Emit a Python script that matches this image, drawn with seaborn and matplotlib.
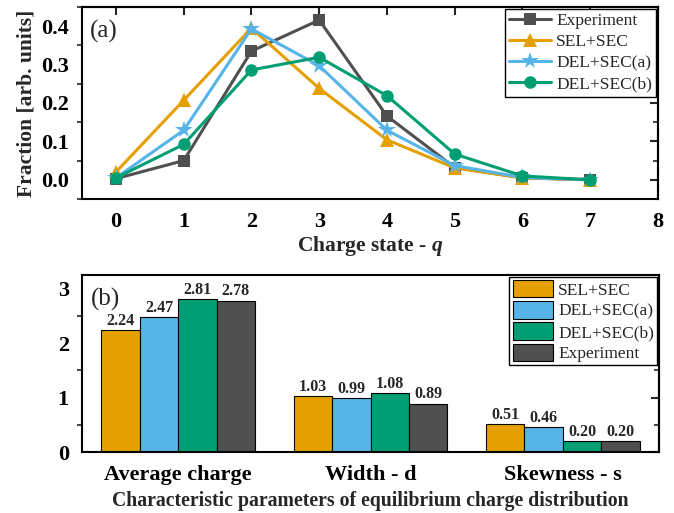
import numpy as np
import pandas as pd
import matplotlib
matplotlib.use("Agg")
import matplotlib.pyplot as plt
from matplotlib.ticker import MultipleLocator
import seaborn as sns

# Panel (a): equilibrium charge-state fractions
charge_states = [0, 1, 2, 3, 4, 5, 6, 7]
experiment = [0.003, 0.050, 0.335, 0.416, 0.166, 0.032, 0.005, 0.000]
sel_sec = [0.020, 0.207, 0.395, 0.238, 0.104, 0.031, 0.005, 0.000]
del_sec_a = [0.005, 0.129, 0.393, 0.297, 0.129, 0.037, 0.006, 0.000]
del_sec_b = [0.005, 0.092, 0.286, 0.319, 0.219, 0.067, 0.010, 0.000]

# Panel (b): characteristic parameters
parameters = ["Average charge", "Width - d", "Skewness - s"]
models = ["SEL+SEC", "DEL+SEC(a)", "DEL+SEC(b)", "Experiment"]
par_sel_sec = [2.24, 1.03, 0.51]
par_del_sec_a = [2.47, 0.99, 0.46]
par_del_sec_b = [2.81, 1.08, 0.20]
par_experiment = [2.78, 0.89, 0.20]

colors = {"Experiment": "#505050", "SEL+SEC": "#E69F00",
          "DEL+SEC(a)": "#56B4E9", "DEL+SEC(b)": "#009E73"}

sns.set_theme(style="white")
plt.rcParams["font.family"] = ["Liberation Serif", "DejaVu Serif"]
plt.rcParams["mathtext.fontset"] = "custom"
plt.rcParams["mathtext.bfit"] = "Liberation Serif:italic:bold"
plt.rcParams["mathtext.it"] = "Liberation Serif:italic"
plt.rcParams["mathtext.bf"] = "Liberation Serif:bold"

fig = plt.figure(figsize=(6.74, 5.13), dpi=100)
ax1 = fig.add_axes([0.1217, 0.6121, 0.8546, 0.3743])
ax2 = fig.add_axes([0.1217, 0.1189, 0.8561, 0.3450])

# ---- panel (a)
series = [("Experiment", experiment, "s", 8),
          ("SEL+SEC", sel_sec, "^", 10.5),
          ("DEL+SEC(a)", del_sec_a, "*", 13),
          ("DEL+SEC(b)", del_sec_b, "o", 9)]
for name, vals, mk, ms in series:
    sns.lineplot(x=charge_states, y=vals, ax=ax1, color=colors[name],
                 marker=mk, markersize=ms, markeredgewidth=0,
                 linewidth=2.2, label=name)

ax1.set_xlim(-0.5, 8)
ax1.set_ylim(-0.05, 0.45)
ax1.xaxis.set_major_locator(MultipleLocator(1))
ax1.yaxis.set_major_locator(MultipleLocator(0.1))
ax1.yaxis.set_minor_locator(MultipleLocator(0.05))
ax1.set_xlabel(r"Charge state - $\mathbfit{q}$", fontsize=15.5, fontweight="bold", labelpad=1)
ax1.set_ylabel("Fraction [arb. units]", fontsize=15.5, fontweight="bold", labelpad=3)
ax1.text(0.013, 0.935, "(a)", transform=ax1.transAxes, fontsize=18,
         va="top", ha="left")
leg1 = ax1.legend(loc="upper right", fontsize=12.5, frameon=True, fancybox=False,
                  edgecolor="black", framealpha=1, borderaxespad=0.1,
                  handlelength=2.4, borderpad=0.25, labelspacing=0.28,
                  handletextpad=0.3)
leg1.get_frame().set_linewidth(1.0)

# ---- panel (b)
rows = []
for m, vals in zip(models, [par_sel_sec, par_del_sec_a, par_del_sec_b, par_experiment]):
    for p, v in zip(parameters, vals):
        rows.append({"parameter": p, "model": m, "value": v})
df = pd.DataFrame(rows)
sns.barplot(data=df, x="parameter", y="value", hue="model", order=parameters,
            hue_order=models, palette=[colors[m] for m in models], ax=ax2,
            width=0.8, edgecolor="black", linewidth=0.8, saturation=1)
for cont in ax2.containers:
    ax2.bar_label(cont, fmt="%.2f", fontsize=11.5, fontweight="bold", padding=1)

ax2.set_xlim(-0.5, 2.5)
ax2.set_ylim(0, 3.25)
ax2.yaxis.set_major_locator(MultipleLocator(1))
ax2.yaxis.set_minor_locator(MultipleLocator(0.5))
ax2.set_xlabel("Characteristic parameters of equilibrium charge distribution",
               fontsize=14.2, fontweight="bold", labelpad=5)
ax2.set_ylabel("")
ax2.text(0.015, 0.93, "(b)", transform=ax2.transAxes, fontsize=18,
         va="top", ha="left")
leg2 = ax2.legend(loc="upper right", fontsize=12.5, frameon=True, fancybox=False,
                  edgecolor="black", framealpha=1, borderaxespad=0.1,
                  handlelength=2.3, handleheight=1.15, borderpad=0.2,
                  labelspacing=0.15, handletextpad=0.3, title=None)
leg2.get_frame().set_linewidth(1.0)

# ---- axis styling: outward ticks on left/bottom, inward mirror ticks
for ax in (ax1, ax2):
    for sp in ax.spines.values():
        sp.set_linewidth(1.5)
        sp.set_color("black")
        sp.set_visible(True)
    ax.tick_params(axis="both", which="major", direction="out", length=6,
                   width=1.5, labelsize=16, colors="black")
    ax.tick_params(axis="y", which="minor", direction="out", length=3.5,
                   width=1.2, left=True)
    ax.tick_params(axis="y", which="both", right=False)
    for lbl in ax.get_xticklabels() + ax.get_yticklabels():
        lbl.set_fontweight("bold")

ax2.tick_params(axis="x", which="both", bottom=False, pad=3)

# mirrored inward ticks
sec_top = ax1.secondary_xaxis("top")
sec_top.xaxis.set_major_locator(MultipleLocator(1))
sec_top.tick_params(direction="in", length=6, width=1.5, labeltop=False)
sec_top.spines["top"].set_linewidth(1.5)
for ax, major, minor in ((ax1, 0.1, 0.05), (ax2, 1, 0.5)):
    sec_r = ax.secondary_yaxis("right")
    sec_r.yaxis.set_major_locator(MultipleLocator(major))
    sec_r.yaxis.set_minor_locator(MultipleLocator(minor))
    sec_r.tick_params(which="major", direction="in", length=6, width=1.5, labelright=False)
    sec_r.tick_params(which="minor", direction="in", length=3.5, width=1.2)
    sec_r.spines["right"].set_linewidth(1.5)

fig.savefig("out.png", dpi=100)
